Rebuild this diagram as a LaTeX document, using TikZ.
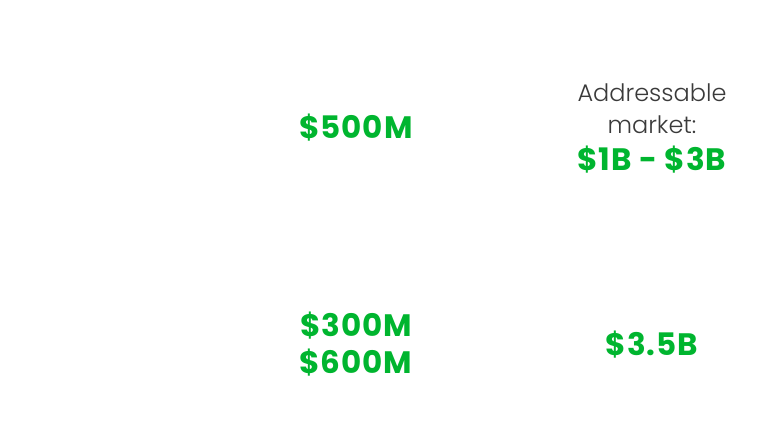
\documentclass[tikz,border=0pt]{standalone}
\usepackage{fontspec}
\setmainfont{Poppins}
\newfontfamily\lightfont{Poppins Light}
\definecolor{moneygreen}{HTML}{00B52F}
\definecolor{labelgray}{HTML}{3A3A3A}
\begin{document}
\begin{tikzpicture}[x=1pt,y=-1pt,
  money/.style={text=moneygreen,font=\fontsize{31}{33}\selectfont\bfseries\addfontfeatures{LetterSpace=3},align=center,inner sep=0pt},
  label/.style={text=labelgray,font=\lightfont\fontsize{24}{33}\selectfont,align=center,inner sep=0pt}]
\useasboundingbox[fill=white] (0,0) rectangle (771,438);
\node[money] (a) at (356,128) {\$500M};
\node[label] (b) at (652,93) {Addressable};
\node[label] (c) at (652,125) {market:};
\node[money] (d) at (652,160) {\$1B - \$3B};
\node[money] (e) at (356,326) {\$300M};
\node[money] (f) at (356,363) {\$600M};
\node[money] (g) at (652,345) {\$3.5B};
\end{tikzpicture}
\end{document}
